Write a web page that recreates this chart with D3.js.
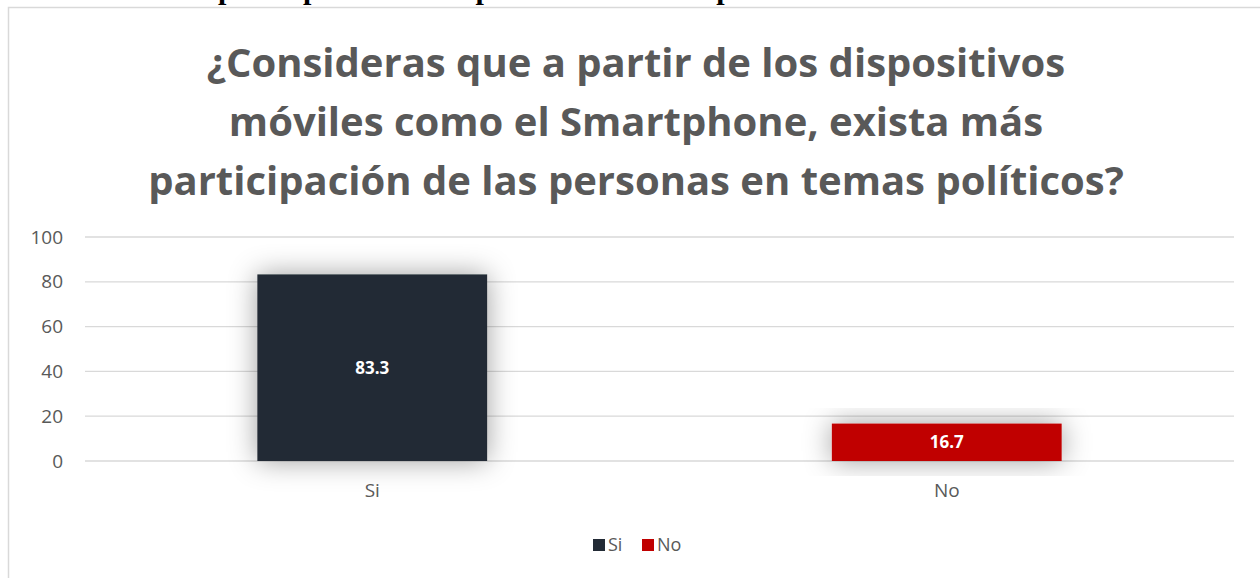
<!DOCTYPE html>
<html>
<head>
<meta charset="utf-8">
<script src="https://cdn.jsdelivr.net/npm/d3@7"></script>
<style>
  body { margin: 0; background: #fff; }
  svg { display: block; }
</style>
</head>
<body>
<div id="chart"></div>
<script>
var width = 1260, height = 578;

// data
let categories = ['Si', 'No'];
let values = [83.3, 16.7];
let colors = ['#222a35', '#c00000'];
let yTicks = [0, 20, 40, 60, 80, 100];
let titleLines = [
  '¿Consideras que a partir de los dispositivos',
  'móviles como el Smartphone, exista más',
  'participación de las personas en temas políticos?'
];

let svg = d3.select('#chart')
  .append('svg')
  .attr('width', width)
  .attr('height', height);

// shadow filter for the bars
let defs = svg.append('defs');
let f = defs.append('filter')
  .attr('id', 'glow')
  .attr('x', '-40%').attr('y', '-40%')
  .attr('width', '180%').attr('height', '180%');
f.append('feDropShadow')
  .attr('dx', 0).attr('dy', 0)
  .attr('stdDeviation', 14)
  .attr('flood-color', '#000')
  .attr('flood-opacity', 0.38);

// cut-off line of the page text above the chart (only its bottom shows)
svg.append('text')
  .attr('x', 78)
  .attr('y', -1.5)
  .attr('font-family', '"Liberation Serif", serif')
  .attr('font-weight', 'bold')
  .attr('font-size', 30)
  .attr('fill', '#000')
  .text('exista más participación de las personas en temas políticos?');

// chart frame
svg.append('rect')
  .attr('x', 8.5).attr('y', 7.5)
  .attr('width', 1262).attr('height', 580)
  .attr('fill', 'none')
  .attr('stroke', '#d9d9d9')
  .attr('stroke-width', 1.5);

// title
svg.append('g')
  .selectAll('text')
  .data(titleLines)
  .enter()
  .append('text')
  .attr('x', 636)
  .attr('y', (d, i) => 77 + i * 59)
  .attr('text-anchor', 'middle')
  .attr('font-family', '"Open Sans", sans-serif')
  .attr('font-weight', 'bold')
  .attr('font-size', 40)
  .attr('fill', '#595959')
  .text(d => d);

let x = d3.scaleBand()
  .domain(categories)
  .range([85, 1234])
  .paddingInner(0.6)
  .paddingOuter(0.3);

let y = d3.scaleLinear()
  .domain([0, 100])
  .range([461, 237]);

// gridlines
svg.append('g')
  .selectAll('line')
  .data(yTicks)
  .enter()
  .append('line')
  .attr('x1', 85).attr('x2', 1234)
  .attr('y1', d => y(d)).attr('y2', d => y(d))
  .attr('stroke', '#d9d9d9')
  .attr('stroke-width', 1.3);

// y axis labels
let yAxis = d3.axisLeft(y).tickValues(yTicks).tickSize(0).tickPadding(0);
let gy = svg.append('g')
  .attr('transform', 'translate(63,0)')
  .call(yAxis);
gy.select('.domain').remove();
gy.selectAll('text')
  .attr('font-family', '"Open Sans", sans-serif')
  .attr('font-size', 19)
  .attr('fill', '#595959');

// x axis labels
let xAxis = d3.axisBottom(x).tickSize(0).tickPadding(0);
let gx = svg.append('g')
  .attr('transform', 'translate(0,483)')
  .call(xAxis);
gx.select('.domain').remove();
gx.selectAll('text')
  .attr('font-family', '"Open Sans", sans-serif')
  .attr('font-size', 19)
  .attr('fill', '#595959');

// bars
svg.append('g')
  .selectAll('rect')
  .data(values)
  .enter()
  .append('rect')
  .attr('x', (d, i) => x(categories[i]))
  .attr('y', d => y(d))
  .attr('width', x.bandwidth())
  .attr('height', d => y(0) - y(d))
  .attr('fill', (d, i) => colors[i])
  .attr('filter', 'url(#glow)');

// data labels
svg.append('g')
  .selectAll('text')
  .data(values)
  .enter()
  .append('text')
  .attr('x', (d, i) => x(categories[i]) + x.bandwidth() / 2)
  .attr('y', d => (y(d) + y(0)) / 2)
  .attr('dy', '0.35em')
  .attr('text-anchor', 'middle')
  .attr('font-family', '"Open Sans", sans-serif')
  .attr('font-weight', 'bold')
  .attr('font-size', 17)
  .attr('fill', '#fff')
  .text(d => d.toFixed(1));

// legend
let legend = svg.append('g')
  .attr('transform', 'translate(593,545)');
let items = legend.selectAll('g')
  .data(categories)
  .enter()
  .append('g')
  .attr('transform', (d, i) => `translate(${i * 49},0)`);
items.append('rect')
  .attr('x', 0).attr('y', -6)
  .attr('width', 12).attr('height', 12)
  .attr('fill', (d, i) => colors[i]);
items.append('text')
  .attr('x', 15)
  .attr('dy', '0.35em')
  .attr('font-family', '"Open Sans", sans-serif')
  .attr('font-size', 18)
  .attr('fill', '#595959')
  .text(d => d);
</script>
</body>
</html>
